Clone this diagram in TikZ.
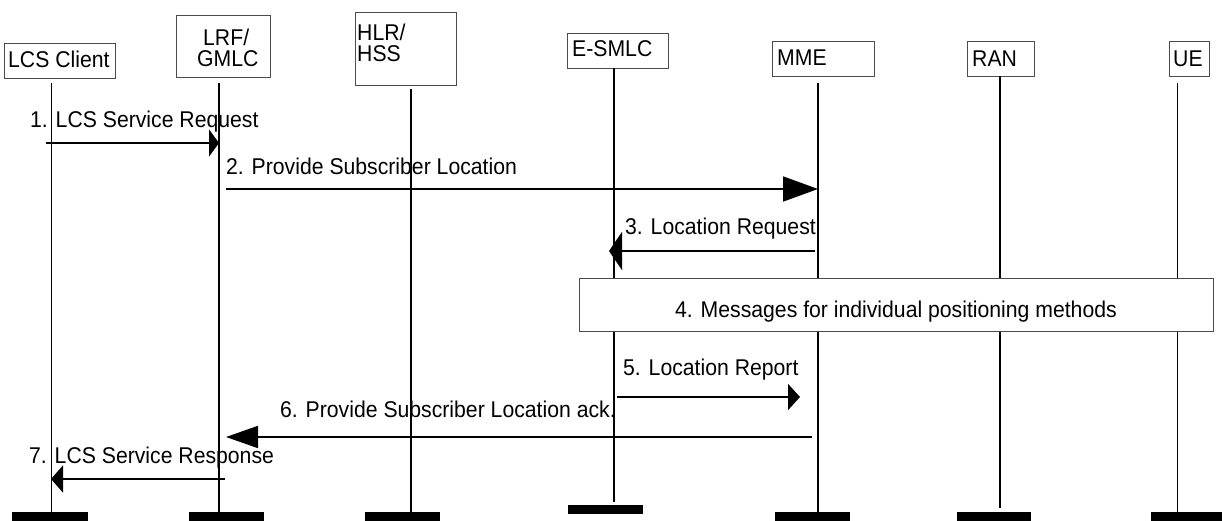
\documentclass[tikz,border=0pt]{standalone}
\usepackage{fontspec}
\setmainfont{Liberation Sans}[FakeStretch=0.93]
\usetikzlibrary{arrows.meta}
\begin{document}
\begin{tikzpicture}[x=1pt,y=-1pt,
  ent/.style={draw=black!70, line width=0.9pt, fill=white, anchor=north west, inner sep=0pt},
  lbl/.style={anchor=base west, inner sep=0pt, font=\fontsize{22.8}{23}\selectfont},
  life/.style={line width=1.8pt},
  msg/.style={line width=1.8pt},
  barbox/.style={fill=black, draw=none, anchor=north west, inner sep=0pt, minimum height=9pt}]
\useasboundingbox (0,0) rectangle (1222,521);
% entity boxes
\node[ent, minimum width=111pt, minimum height=35pt] (lcsbox) at (4,43) {};
\node[ent, minimum width=94pt, minimum height=62pt] (lrfbox) at (176,15) {};
\node[ent, minimum width=101pt, minimum height=73pt] (hlrbox) at (355,12) {};
\node[ent, minimum width=101pt, minimum height=35pt] (smlcbox) at (567,33) {};
\node[ent, minimum width=102pt, minimum height=35pt] (mmebox) at (772,41) {};
\node[ent, minimum width=67pt, minimum height=35pt] (ranbox) at (967,41) {};
\node[ent, minimum width=40pt, minimum height=35pt] (uebox) at (1169,41) {};
% entity labels
\node[lbl] (lcst) at (8,67.5) {LCS Client};
\node[lbl] (lrft1) at (203,45.5) {LRF/};
\node[lbl] (lrft2) at (197,67) {GMLC};
\node[lbl] (hlrt1) at (357,40.5) {HLR/};
\node[lbl] (hlrt2) at (357,62) {HSS};
\node[lbl] (smlct) at (572,57) {E-SMLC};
\node[lbl] (mmet) at (777,66) {MME};
\node[lbl] (rant) at (972,66.5) {RAN};
\node[lbl] (uet) at (1173,66.5) {UE};
% lifeline ends
\coordinate (lcsT) at (51.5,83);  \coordinate (lcsB) at (51.5,512);
\coordinate (lrfT) at (219,83);   \coordinate (lrfB) at (219,512);
\coordinate (hlrT) at (411,89);   \coordinate (hlrB) at (411,512);
\coordinate (smlcT) at (614,68);  \coordinate (smlcB) at (614,502);
\coordinate (mmeT) at (818,83);   \coordinate (mmeB) at (818,512);
\coordinate (ranT) at (1000,76);  \coordinate (ranB) at (1000,508);
\coordinate (ueT) at (1177.5,83); \coordinate (ueB) at (1177.5,512);
\draw[life] (lcsT) -- (lcsB);
\draw[life] (lrfT) -- (lrfB);
\draw[life] (hlrT) -- (hlrB);
\draw[life] (smlcT) -- (smlcB);
\draw[life] (mmeT) -- (mmeB);
\draw[life] (ranT) -- (ranB);
\draw[life] (ueT) -- (ueB);
% bottom bars
\node[barbox, minimum width=76pt] (lcsbar) at (12,512) {};
\node[barbox, minimum width=75pt] (lrfbar) at (189,512) {};
\node[barbox, minimum width=75pt] (hlrbar) at (365,512) {};
\node[barbox, minimum width=75pt] (smlcbar) at (568,505) {};
\node[barbox, minimum width=75pt] (mmebar) at (775,512) {};
\node[barbox, minimum width=74pt] (ranbar) at (957,512) {};
\node[barbox, minimum width=71pt] (uebar) at (1151,512) {};
% step 4 box
\node[draw=black!70, line width=0.9pt, fill=white, anchor=north west, inner sep=0pt,
      minimum width=634pt, minimum height=53pt] (posbox) at (579,278) {};
\node[anchor=base, inner sep=0pt, font=\fontsize{22.8}{23}\selectfont] (post) at (896,317)
  {4. Messages for individual positioning methods};
% messages
\coordinate (m1s) at (46,143);   \coordinate (m1e) at (219,143);
\coordinate (m2s) at (226,189); \coordinate (m2e) at (818,189);
\coordinate (m3s) at (815,251);  \coordinate (m3e) at (609,251);
\coordinate (m5s) at (617,397);  \coordinate (m5e) at (800,397);
\coordinate (m6s) at (812,437);  \coordinate (m6e) at (226,437);
\coordinate (m7s) at (225,479);  \coordinate (m7e) at (51,479);
\draw[msg,-{Triangle[length=10pt,width=27pt]}] (m1s) -- (m1e);
\draw[msg,-{Triangle[length=35pt,width=25pt]}] (m2s) -- (m2e);
\draw[msg,-{Triangle[length=13pt,width=38pt]}] (m3s) -- (m3e);
\draw[msg,-{Triangle[length=12pt,width=26pt]}] (m5s) -- (m5e);
\draw[msg,-{Triangle[length=32pt,width=22pt]}] (m6s) -- (m6e);
\draw[msg,-{Triangle[length=12pt,width=27pt]}] (m7s) -- (m7e);
% message labels
\node[lbl] (l1) at (30,127.5) {1. LCS Service Request};
\node[lbl] (l2) at (226,174.5) {2. Provide Subscriber Location};
\node[lbl] (l3) at (625,234.5) {3. Location Request};
\node[lbl] (l5) at (623,375.5) {5. Location Report};
\node[lbl] (l6) at (280,417.5) {6. Provide Subscriber Location ack.};
\node[lbl] (l7) at (29,463) {7. LCS Service Response};
\end{tikzpicture}
\end{document}
